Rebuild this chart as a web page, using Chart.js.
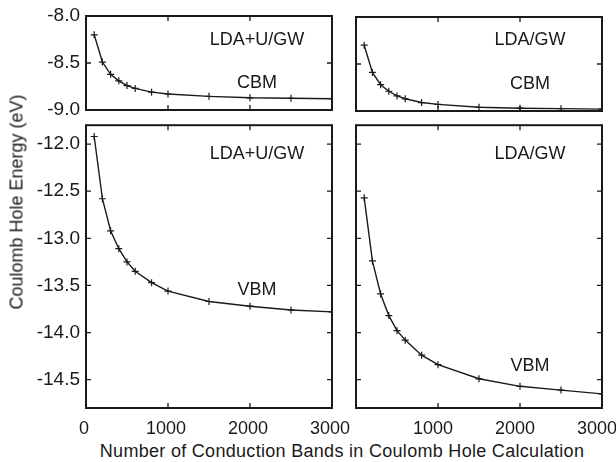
<!DOCTYPE html>
<html>
<head>
<meta charset="utf-8">
<script src="https://cdn.jsdelivr.net/npm/chart.js@4.4.1/dist/chart.umd.min.js"></script>
<style>
  body { margin: 0; background: #fff; }
  #wrap { position: relative; width: 616px; height: 462px; font-family: "Liberation Sans", Arial, sans-serif; color: #1a1a1a; }
  #wrap canvas { position: absolute; }
  .ttl { position: absolute; font-size: 18px; white-space: nowrap; transform: translate(-50%, -50%); }
  #ytitle { left: 17px; top: 202px; transform: translate(-50%, -50%) rotate(-90deg); }
  #xtitle { left: 342px; top: 451px; letter-spacing: 0.3px; }
</style>
</head>
<body>
<div id="wrap">
  <canvas id="cbmLdaU" width="340" height="120" style="left:0;top:0"></canvas>
  <canvas id="cbmLda" width="276" height="120" style="left:340px;top:0"></canvas>
  <canvas id="vbmLdaU" width="360" height="320" style="left:0;top:120px"></canvas>
  <canvas id="vbmLda" width="276" height="320" style="left:340px;top:120px"></canvas>
  <div class="ttl" id="ytitle">Coulomb Hole Energy (eV)</div>
  <div class="ttl" id="xtitle">Number of Conduction Bands in Coulomb Hole Calculation</div>
</div>
<script>
// number of conduction bands used in the Coulomb hole sum
const nBands = [100, 200, 300, 400, 500, 600, 800, 1000, 1500, 2000, 2500, 3000];

// Coulomb hole energies (eV)
const cbmLdaU = [-8.20, -8.49, -8.62, -8.69, -8.74, -8.77, -8.81, -8.83, -8.855, -8.87, -8.875, -8.88];
const cbmLda  = [-8.30, -8.59, -8.72, -8.79, -8.84, -8.87, -8.91, -8.93, -8.96, -8.97, -8.975, -8.98];
const vbmLdaU = [-11.92, -12.58, -12.92, -13.11, -13.25, -13.35, -13.47, -13.56, -13.67, -13.72, -13.76, -13.78];
const vbmLda  = [-12.57, -13.24, -13.59, -13.82, -13.98, -14.08, -14.24, -14.34, -14.49, -14.57, -14.61, -14.65];

// tick values
const xTicks = [0, 1000, 2000, 3000];
const cbmTicks = [-8.0, -8.5, -9.0];
const vbmTicks = [-12.0, -12.5, -13.0, -13.5, -14.0, -14.5];

const INK = '#1a1a1a';
const FONT = '"Liberation Sans", Arial, sans-serif';

// box, inward tick marks and the panel labels
const framePlugin = {
  id: 'frame',
  afterDraw(chart, args, opts) {
    const { ctx, chartArea: a, scales: { x, y } } = chart;
    const t = 5;
    ctx.save();
    ctx.strokeStyle = INK;
    ctx.lineWidth = 1.3;
    x.ticks.forEach(tk => {
      const px = x.getPixelForValue(tk.value);
      ctx.beginPath();
      ctx.moveTo(px, a.top); ctx.lineTo(px, a.top + t);
      ctx.moveTo(px, a.bottom); ctx.lineTo(px, a.bottom - t);
      ctx.stroke();
    });
    y.ticks.forEach(tk => {
      const py = y.getPixelForValue(tk.value);
      ctx.beginPath();
      ctx.moveTo(a.left, py); ctx.lineTo(a.left + t, py);
      ctx.moveTo(a.right, py); ctx.lineTo(a.right - t, py);
      ctx.stroke();
    });
    ctx.lineWidth = 2;
    ctx.strokeRect(a.left, a.top, a.width, a.height);

    ctx.fillStyle = INK;
    ctx.font = '18px ' + FONT;
    ctx.textAlign = 'center';
    ctx.textBaseline = 'middle';
    (opts.notes || []).forEach(n => {
      ctx.fillText(n.text, x.getPixelForValue(n.x), y.getPixelForValue(n.y));
    });
    ctx.restore();
  }
};

function makePanel(id, values, p) {
  const el = document.getElementById(id);
  return new Chart(el.getContext('2d'), {
    type: 'line',
    data: {
      datasets: [{
        data: nBands.map((n, i) => ({ x: n, y: values[i] })),
        borderColor: INK,
        borderWidth: 1.4,
        pointStyle: 'cross',
        pointRadius: 3.5,
        pointBorderWidth: 1.2,
        pointBorderColor: INK,
        fill: false,
        tension: 0
      }]
    },
    options: {
      responsive: false,
      animation: false,
      layout: { padding: p.padding },
      plugins: {
        legend: { display: false },
        tooltip: { enabled: false },
        frame: { notes: p.notes }
      },
      scales: {
        x: {
          type: 'linear',
          min: 0,
          max: 3000,
          afterBuildTicks: s => { s.ticks = xTicks.map(v => ({ value: v })); },
          afterFit: s => { s.height = p.xHeight; s.paddingLeft = 0; s.paddingRight = 0; },
          grid: { display: false, drawTicks: false },
          border: { display: false },
          ticks: {
            display: p.showX,
            color: INK,
            font: { family: FONT, size: 18 },
            padding: 10,
            maxRotation: 0,
            autoSkip: false,
            labelOffset: p.labelOffset || 0,
            callback: v => (p.hideZero && v === 0) ? '' : String(v)
          }
        },
        y: {
          type: 'linear',
          min: p.yMin,
          max: p.yMax,
          afterBuildTicks: s => { s.ticks = p.yTicks.map(v => ({ value: v })); },
          afterFit: s => { s.width = p.yWidth; s.paddingTop = 0; s.paddingBottom = 0; },
          grid: { display: false, drawTicks: false },
          border: { display: false },
          ticks: {
            display: p.showY,
            color: INK,
            font: { family: FONT, size: 19 },
            padding: 6,
            callback: v => v.toFixed(1)
          }
        }
      }
    },
    plugins: [framePlugin]
  });
}

makePanel('cbmLdaU', cbmLdaU, {
  yMin: -9.0, yMax: -8.0, yTicks: cbmTicks, showY: true, showX: false,
  yWidth: 86, xHeight: 10, padding: { top: 16, right: 8, left: 0, bottom: 0 },
  notes: [{ text: 'LDA+U/GW', x: 2085, y: -8.255 }, { text: 'CBM', x: 2085, y: -8.71 }]
});

makePanel('cbmLda', cbmLda, {
  yMin: -9.0, yMax: -8.0, yTicks: cbmTicks, showY: false, showX: false,
  yWidth: 16, xHeight: 9, padding: { top: 17, right: 14, left: 0, bottom: 0 },
  notes: [{ text: 'LDA/GW', x: 2122, y: -8.24 }, { text: 'CBM', x: 2122, y: -8.71 }]
});

makePanel('vbmLdaU', vbmLdaU, {
  yMin: -14.8, yMax: -11.8, yTicks: vbmTicks, showY: true, showX: true,
  yWidth: 86, xHeight: 32, padding: { top: 4, right: 28, left: 0, bottom: 0 },
  labelOffset: -2,
  notes: [{ text: 'LDA+U/GW', x: 2085, y: -12.105 }, { text: 'VBM', x: 2085, y: -13.55 }]
});

makePanel('vbmLda', vbmLda, {
  yMin: -14.8, yMax: -11.8, yTicks: vbmTicks, showY: false, showX: true, hideZero: true,
  yWidth: 16, xHeight: 32, padding: { top: 4, right: 14, left: 0, bottom: 0 },
  labelOffset: -5,
  notes: [{ text: 'LDA/GW', x: 2122, y: -12.105 }, { text: 'VBM', x: 2122, y: -14.36 }]
});
</script>
</body>
</html>
